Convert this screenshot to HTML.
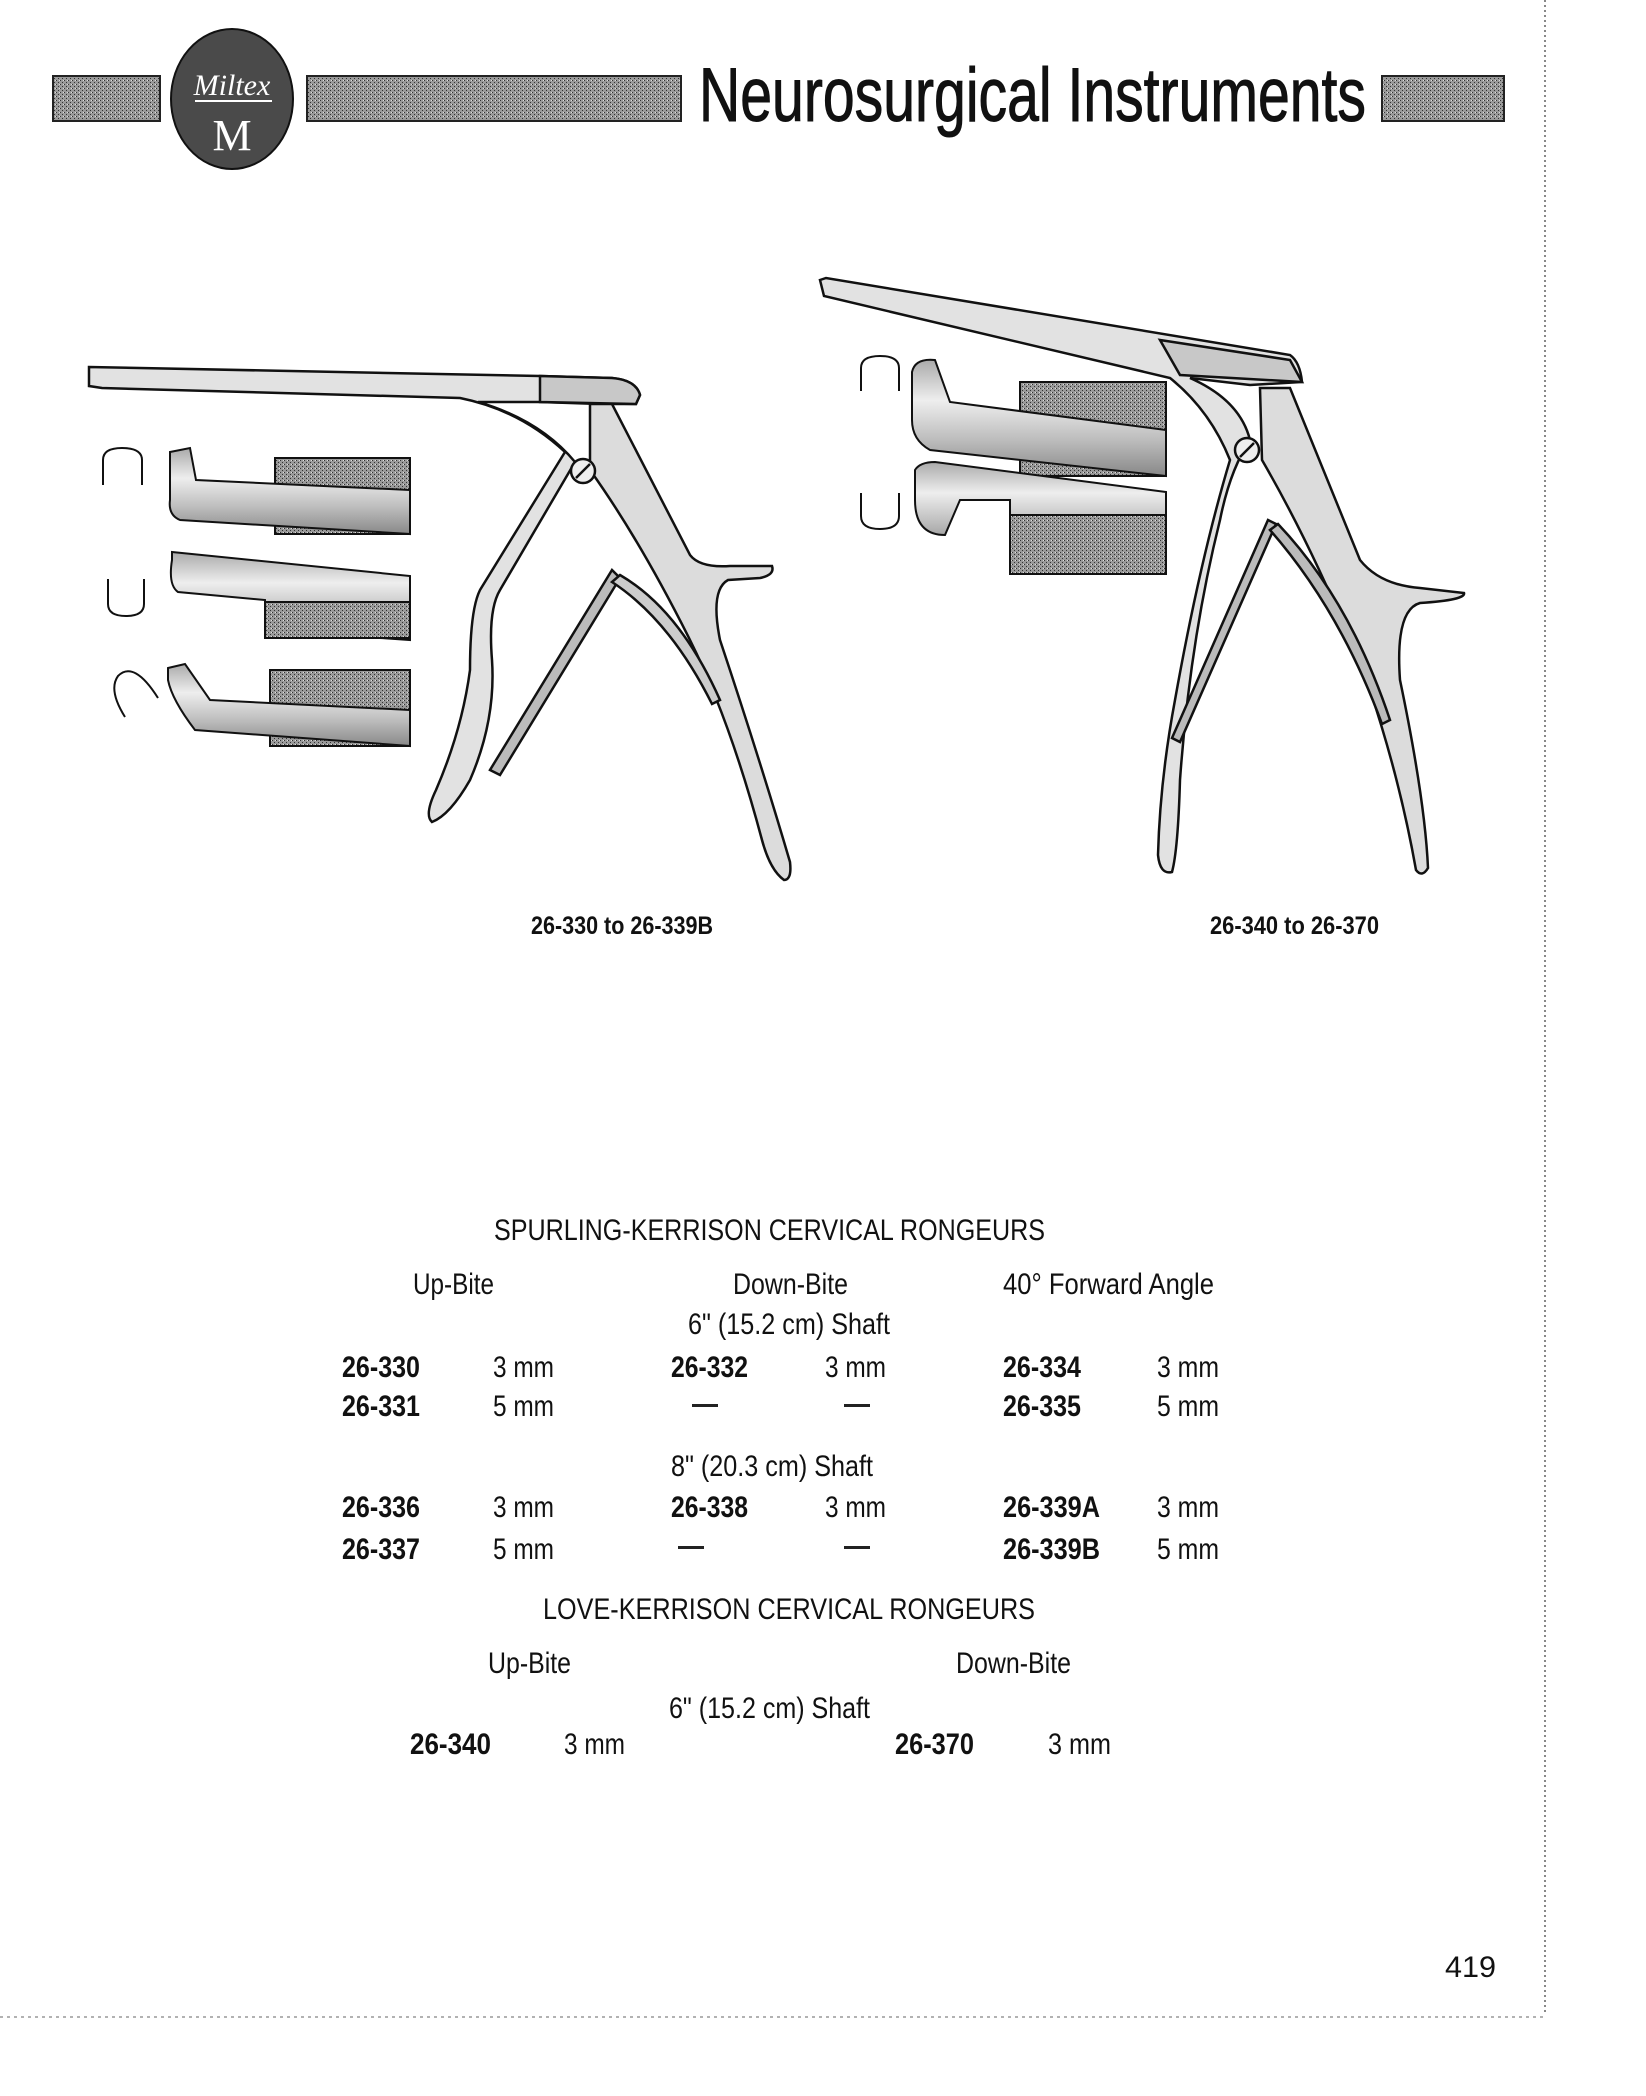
<!DOCTYPE html>
<html><head><meta charset="utf-8"><style>
html,body{margin:0;padding:0;background:#fff;}
svg{display:block;}
text{font-family:"Liberation Sans Narrow","Liberation Sans",sans-serif;fill:#111;}
.b{font-weight:bold;}
</style></head><body>
<svg width="1646" height="2096" viewBox="0 0 1646 2096" xmlns="http://www.w3.org/2000/svg">
<defs>
<pattern id="dith" width="4" height="4" patternUnits="userSpaceOnUse">
<rect width="4" height="4" fill="#9a9a9a"/><rect x="0" y="0" width="1" height="1" fill="#333"/><rect x="2" y="2" width="1" height="1" fill="#333"/><rect x="3" y="0" width="1" height="1" fill="#ddd"/>
</pattern>
<linearGradient id="cyl" x1="0" y1="0" x2="0" y2="1">
<stop offset="0" stop-color="#aaa"/><stop offset="0.35" stop-color="#eee"/><stop offset="0.7" stop-color="#bbb"/><stop offset="1" stop-color="#888"/>
</linearGradient>
</defs>
<!-- header -->
<rect x="53" y="76" width="107" height="45" fill="url(#dith)" stroke="#222" stroke-width="2"/>
<rect x="307" y="76" width="374" height="45" fill="url(#dith)" stroke="#222" stroke-width="2"/>
<rect x="1382" y="76" width="122" height="45" fill="url(#dith)" stroke="#222" stroke-width="2"/>
<ellipse cx="232" cy="99" rx="61" ry="70" fill="#4a4a4a" stroke="#111" stroke-width="2"/>
<text x="232" y="95" text-anchor="middle" font-size="30" font-style="italic" style="fill:#fff;font-family:'Liberation Serif',serif">Miltex</text>
<line x1="195" y1="101" x2="272" y2="101" stroke="#fff" stroke-width="2"/>
<text x="232" y="150" text-anchor="middle" font-size="44" style="fill:#fff;font-family:'Liberation Serif',serif">M</text>
<text x="699" y="121" font-size="76" textLength="667" lengthAdjust="spacingAndGlyphs" stroke="#111" stroke-width="1">Neurosurgical Instruments</text>
<!-- page edge lines -->
<line x1="1545" y1="0" x2="1545" y2="2015" stroke="#888" stroke-width="2" stroke-dasharray="2 3"/>
<line x1="0" y1="2017" x2="1545" y2="2017" stroke="#999" stroke-width="1.5" stroke-dasharray="3 4"/>

<!-- left instrument -->
<g stroke="#111" stroke-width="2.5" fill="#e6e6e6">
<path d="M89,367 L540,376 L612,378 Q636,380 640,395 L636,404 L600,404 L540,402 L478,402 Q540,420 575,462 L500,590 Q488,610 492,660 Q496,720 470,780 Q450,815 432,822 Q424,815 436,790 Q462,730 470,670 Q470,610 480,590 L565,452 Q520,410 460,398 L102,388 L89,386 Z" fill="#e2e2e2"/>
<path d="M540,376 L612,378 Q636,380 640,395 L636,404 L540,402 Z" fill="#c8c8c8"/>
<path d="M590,404 L612,404 L690,555 Q700,568 730,566 L772,566 Q775,575 760,578 L728,580 Q710,590 720,640 Q760,760 790,862 Q792,880 784,880 Q770,870 762,840 Q730,720 690,640 Q640,540 590,470 Z" fill="#dcdcdc"/>
<path d="M612,570 L620,578 L500,775 L490,770 Z" fill="#bbb"/>
<path d="M620,575 Q680,610 720,700 L712,704 Q670,620 612,582 Z" fill="#ccc"/>
<circle cx="583" cy="471" r="12" fill="#eee"/>
<line x1="576" y1="478" x2="590" y2="464"/>
</g>
<!-- left tips -->
<g stroke="#111" stroke-width="2" fill="none">
<path d="M103,485 L103,460 Q103,448 122,448 Q142,448 142,460 L142,485"/>
<path d="M108,579 L108,604 Q108,616 126,616 Q144,616 144,604 L144,579"/>
<path d="M125,717 Q108,690 118,676 Q134,660 158,698"/>
</g>
<g stroke="#111" stroke-width="2">
<rect x="275" y="458" width="135" height="76" fill="url(#dith)"/>
<path d="M170,452 L190,448 L196,480 L410,490 L410,534 L180,520 Q168,515 170,500 Z" fill="url(#cyl)"/>
<path d="M172,552 L410,576 L410,640 L265,630 L265,600 L178,592 Q168,585 172,560 Z" fill="url(#cyl)"/>
<rect x="265" y="602" width="145" height="36" fill="url(#dith)"/>
<rect x="270" y="670" width="140" height="76" fill="url(#dith)"/>
<path d="M168,668 L185,664 L210,700 L410,710 L410,746 L195,730 Q172,700 168,680 Z" fill="url(#cyl)"/>
</g>

<!-- right instrument -->
<g stroke="#111" stroke-width="2.5" fill="#e6e6e6">
<path d="M820,280 L826,278 L1290,355 Q1300,362 1302,382 L1250,385 L1190,378 Q1240,400 1250,440 Q1230,470 1220,520 Q1190,640 1180,780 Q1178,850 1172,872 Q1160,875 1158,855 Q1160,780 1175,700 Q1200,560 1230,460 Q1210,410 1170,378 L824,296 Z" fill="#e2e2e2"/>
<path d="M1160,340 L1290,360 L1302,382 L1180,375 Z" fill="#c8c8c8"/>
<path d="M1260,388 L1290,388 L1360,560 Q1380,585 1420,588 L1464,593 Q1466,600 1420,603 Q1395,610 1400,680 Q1425,800 1428,868 Q1422,878 1416,870 Q1400,780 1370,690 Q1320,560 1262,460 Z" fill="#dcdcdc"/>
<path d="M1268,520 L1276,524 L1180,742 L1172,738 Z" fill="#bbb"/>
<path d="M1278,524 Q1350,600 1390,720 L1382,724 Q1340,610 1270,530 Z" fill="#bbb"/>
<circle cx="1247" cy="450" r="12" fill="#eee"/>
<line x1="1240" y1="457" x2="1254" y2="443"/>
</g>
<g stroke="#111" stroke-width="2" fill="none">
<path d="M861,391 L861,368 Q861,356 880,356 Q899,356 899,368 L899,391"/>
<path d="M861,493 L861,516 Q861,529 880,529 Q899,529 899,516 L899,493"/>
</g>
<g stroke="#111" stroke-width="2">
<rect x="1020" y="382" width="146" height="94" fill="url(#dith)"/>
<path d="M912,372 Q915,358 935,360 L950,402 L1166,430 L1166,476 L930,450 Q912,440 912,420 Z" fill="url(#cyl)"/>
<path d="M915,470 Q920,462 935,462 L1166,492 L1166,550 L1010,536 L1010,500 L960,500 L945,535 Q915,535 915,500 Z" fill="url(#cyl)"/>
<rect x="1010" y="515" width="156" height="59" fill="url(#dith)"/>
</g>

<!-- figure labels -->
<text class="b" x="531" y="934" font-size="25" textLength="182" lengthAdjust="spacingAndGlyphs">26-330 to 26-339B</text>
<text class="b" x="1210" y="934" font-size="25" textLength="169" lengthAdjust="spacingAndGlyphs">26-340 to 26-370</text>

<!-- table -->
<g font-size="30" transform="translate(0,-5)">
<text x="494" y="1245" textLength="551" lengthAdjust="spacingAndGlyphs">SPURLING-KERRISON CERVICAL RONGEURS</text>
<text x="413" y="1299" textLength="81" lengthAdjust="spacingAndGlyphs">Up-Bite</text>
<text x="733" y="1299" textLength="115" lengthAdjust="spacingAndGlyphs">Down-Bite</text>
<text x="1003" y="1299" textLength="211" lengthAdjust="spacingAndGlyphs">40° Forward Angle</text>
<text x="688" y="1339" textLength="202" lengthAdjust="spacingAndGlyphs">6" (15.2 cm) Shaft</text>

<text class="b" x="342" y="1382" textLength="78" lengthAdjust="spacingAndGlyphs">26-330</text>
<text x="493" y="1382" textLength="61" lengthAdjust="spacingAndGlyphs">3 mm</text>
<text class="b" x="671" y="1382" textLength="77" lengthAdjust="spacingAndGlyphs">26-332</text>
<text x="825" y="1382" textLength="61" lengthAdjust="spacingAndGlyphs">3 mm</text>
<text class="b" x="1003" y="1382" textLength="78" lengthAdjust="spacingAndGlyphs">26-334</text>
<text x="1157" y="1382" textLength="62" lengthAdjust="spacingAndGlyphs">3 mm</text>

<text class="b" x="342" y="1421" textLength="78" lengthAdjust="spacingAndGlyphs">26-331</text>
<text x="493" y="1421" textLength="61" lengthAdjust="spacingAndGlyphs">5 mm</text>
<rect x="692" y="1409" width="26" height="3" fill="#222"/>
<rect x="844" y="1409" width="26" height="3" fill="#222"/>
<text class="b" x="1003" y="1421" textLength="78" lengthAdjust="spacingAndGlyphs">26-335</text>
<text x="1157" y="1421" textLength="62" lengthAdjust="spacingAndGlyphs">5 mm</text>

<text x="671" y="1481" textLength="202" lengthAdjust="spacingAndGlyphs">8" (20.3 cm) Shaft</text>

<text class="b" x="342" y="1522" textLength="78" lengthAdjust="spacingAndGlyphs">26-336</text>
<text x="493" y="1522" textLength="61" lengthAdjust="spacingAndGlyphs">3 mm</text>
<text class="b" x="671" y="1522" textLength="77" lengthAdjust="spacingAndGlyphs">26-338</text>
<text x="825" y="1522" textLength="61" lengthAdjust="spacingAndGlyphs">3 mm</text>
<text class="b" x="1003" y="1522" textLength="97" lengthAdjust="spacingAndGlyphs">26-339A</text>
<text x="1157" y="1522" textLength="62" lengthAdjust="spacingAndGlyphs">3 mm</text>

<text class="b" x="342" y="1564" textLength="78" lengthAdjust="spacingAndGlyphs">26-337</text>
<text x="493" y="1564" textLength="61" lengthAdjust="spacingAndGlyphs">5 mm</text>
<rect x="678" y="1551" width="26" height="3" fill="#222"/>
<rect x="844" y="1551" width="26" height="3" fill="#222"/>
<text class="b" x="1003" y="1564" textLength="97" lengthAdjust="spacingAndGlyphs">26-339B</text>
<text x="1157" y="1564" textLength="62" lengthAdjust="spacingAndGlyphs">5 mm</text>

<text x="543" y="1624" textLength="492" lengthAdjust="spacingAndGlyphs">LOVE-KERRISON CERVICAL RONGEURS</text>
<text x="488" y="1678" textLength="83" lengthAdjust="spacingAndGlyphs">Up-Bite</text>
<text x="956" y="1678" textLength="115" lengthAdjust="spacingAndGlyphs">Down-Bite</text>
<text x="669" y="1723" textLength="201" lengthAdjust="spacingAndGlyphs">6" (15.2 cm) Shaft</text>
<text class="b" x="410" y="1759" textLength="81" lengthAdjust="spacingAndGlyphs">26-340</text>
<text x="564" y="1759" textLength="61" lengthAdjust="spacingAndGlyphs">3 mm</text>
<text class="b" x="895" y="1759" textLength="79" lengthAdjust="spacingAndGlyphs">26-370</text>
<text x="1048" y="1759" textLength="63" lengthAdjust="spacingAndGlyphs">3 mm</text>
</g>
<text x="1445" y="1977" font-size="30" textLength="51" lengthAdjust="spacingAndGlyphs" style="font-family:'Liberation Sans',sans-serif">419</text>
</svg>
</body></html>
